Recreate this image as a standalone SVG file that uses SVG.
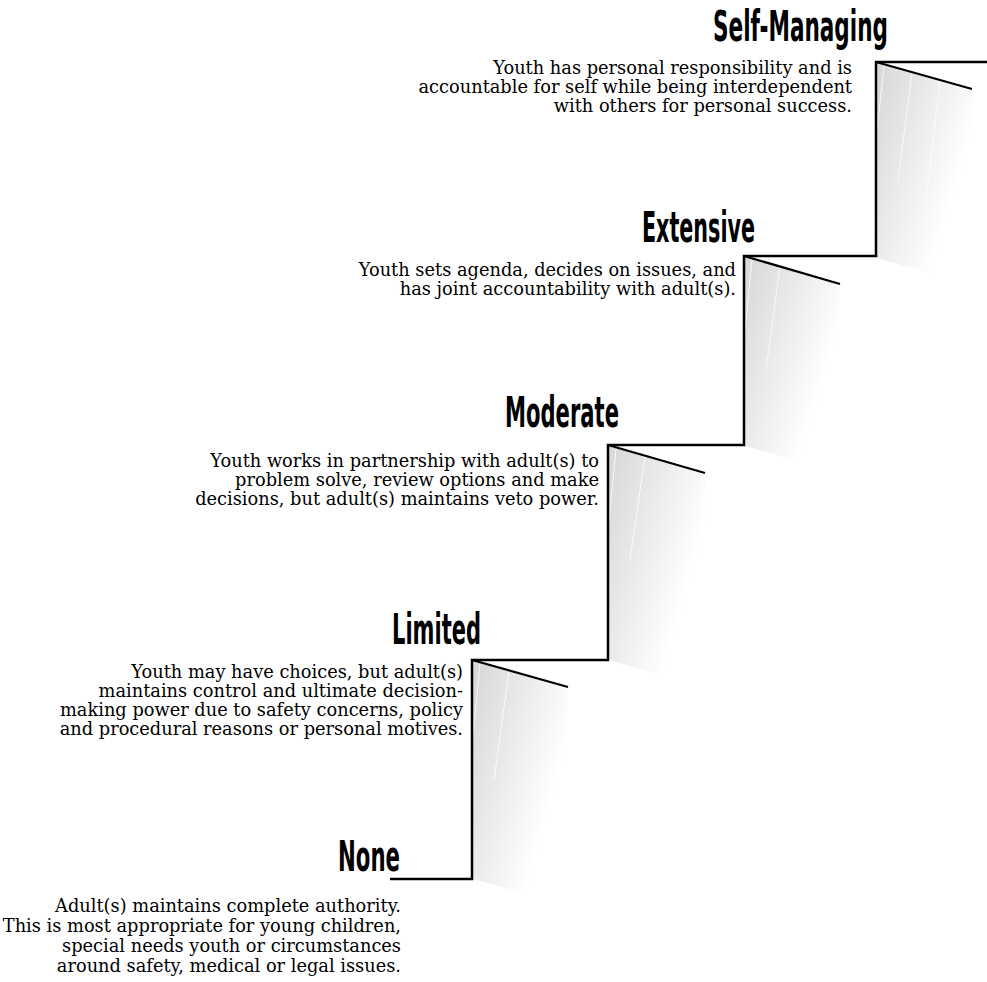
<svg xmlns="http://www.w3.org/2000/svg" width="987" height="982" viewBox="0 0 987 982">
<style>
.t{font-family:"Liberation Sans Narrow","DejaVu Sans Condensed","Liberation Sans",sans-serif;font-weight:bold;font-size:27px;fill:#000;text-anchor:end}
.d{font-family:"DejaVu Serif","Liberation Serif",serif;font-size:17.8px;fill:#000;text-anchor:end}
.stair{fill:none;stroke:#000;stroke-width:2.5;stroke-linejoin:miter}
.slant{stroke:#000;stroke-width:2.2;stroke-linecap:butt}
.hl{stroke:#fff;stroke-width:1;opacity:0.8}
</style>
<defs>
<linearGradient id="sh" x1="0" y1="0.15" x2="1" y2="0.85">
<stop offset="0" stop-color="#dadada"/>
<stop offset="0.35" stop-color="#ebebeb"/>
<stop offset="0.75" stop-color="#ffffff"/>
</linearGradient>
</defs>
<rect width="987" height="982" fill="#fff"/>
<g id="shading">
<polygon points="877,63 972,90 972,285 877,258" fill="url(#sh)"/>
<polygon points="745,257 840,284 840,473 745,446" fill="url(#sh)"/>
<polygon points="609,446 705,473 705,687 609,660" fill="url(#sh)"/>
<polygon points="473,661 568,687 568,906 473,879" fill="url(#sh)"/>
<line class="hl" x1="884" y1="66" x2="876" y2="140"/>
<line class="hl" x1="912" y1="72" x2="898" y2="180"/>
<line class="hl" x1="940" y1="80" x2="925" y2="210"/>
<line class="hl" x1="752" y1="260" x2="745" y2="330"/>
<line class="hl" x1="780" y1="266" x2="766" y2="370"/>
<line class="hl" x1="616" y1="449" x2="609" y2="520"/>
<line class="hl" x1="645" y1="456" x2="630" y2="560"/>
<line class="hl" x1="480" y1="664" x2="473" y2="735"/>
<line class="hl" x1="509" y1="671" x2="494" y2="780"/>
</g>
<g id="connectors">
<path class="stair" d="M390 879 H472 V660 H608 V445 H744 V256 H876 V62 H987"/>
<line class="slant" x1="876" y1="62" x2="972" y2="89"/>
<line class="slant" x1="744" y1="256" x2="840" y2="284"/>
<line class="slant" x1="608" y1="445" x2="705" y2="473"/>
<line class="slant" x1="472" y1="660" x2="568" y2="687"/>
</g>
<g id="self-managing">
<text class="t" transform="scale(1,1.55)" x="888" y="26.45" textLength="175" lengthAdjust="spacingAndGlyphs">Self-Managing</text>
<text class="d" x="852" y="74">Youth has personal responsibility and is</text>
<text class="d" x="852" y="93">accountable for self while being interdependent</text>
<text class="d" x="852" y="112">with others for personal success.</text>
</g>
<g id="extensive">
<text class="t" transform="scale(1,1.55)" x="755" y="156.13" textLength="113" lengthAdjust="spacingAndGlyphs">Extensive</text>
<text class="d" x="736" y="276">Youth sets agenda, decides on issues, and</text>
<text class="d" x="736" y="295">has joint accountability with adult(s).</text>
</g>
<g id="moderate">
<text class="t" transform="scale(1,1.55)" x="619" y="275.48" textLength="114" lengthAdjust="spacingAndGlyphs">Moderate</text>
<text class="d" x="599" y="467">Youth works in partnership with adult(s) to</text>
<text class="d" x="599" y="486">problem solve, review options and make</text>
<text class="d" x="599" y="505">decisions, but adult(s) maintains veto power.</text>
</g>
<g id="limited">
<text class="t" transform="scale(1,1.55)" x="481" y="415.48" textLength="89" lengthAdjust="spacingAndGlyphs">Limited</text>
<text class="d" x="463" y="678">Youth may have choices, but adult(s)</text>
<text class="d" x="463" y="697">maintains control and ultimate decision-</text>
<text class="d" x="463" y="716">making power due to safety concerns, policy</text>
<text class="d" x="463" y="735">and procedural reasons or personal motives.</text>
</g>
<g id="none">
<text class="t" transform="scale(1,1.55)" x="400" y="561.94" textLength="62" lengthAdjust="spacingAndGlyphs">None</text>
<text class="d" x="401" y="912">Adult(s) maintains complete authority.</text>
<text class="d" x="401" y="932">This is most appropriate for young children,</text>
<text class="d" x="401" y="952">special needs youth or circumstances</text>
<text class="d" x="401" y="972">around safety, medical or legal issues.</text>
</g>
</svg>
